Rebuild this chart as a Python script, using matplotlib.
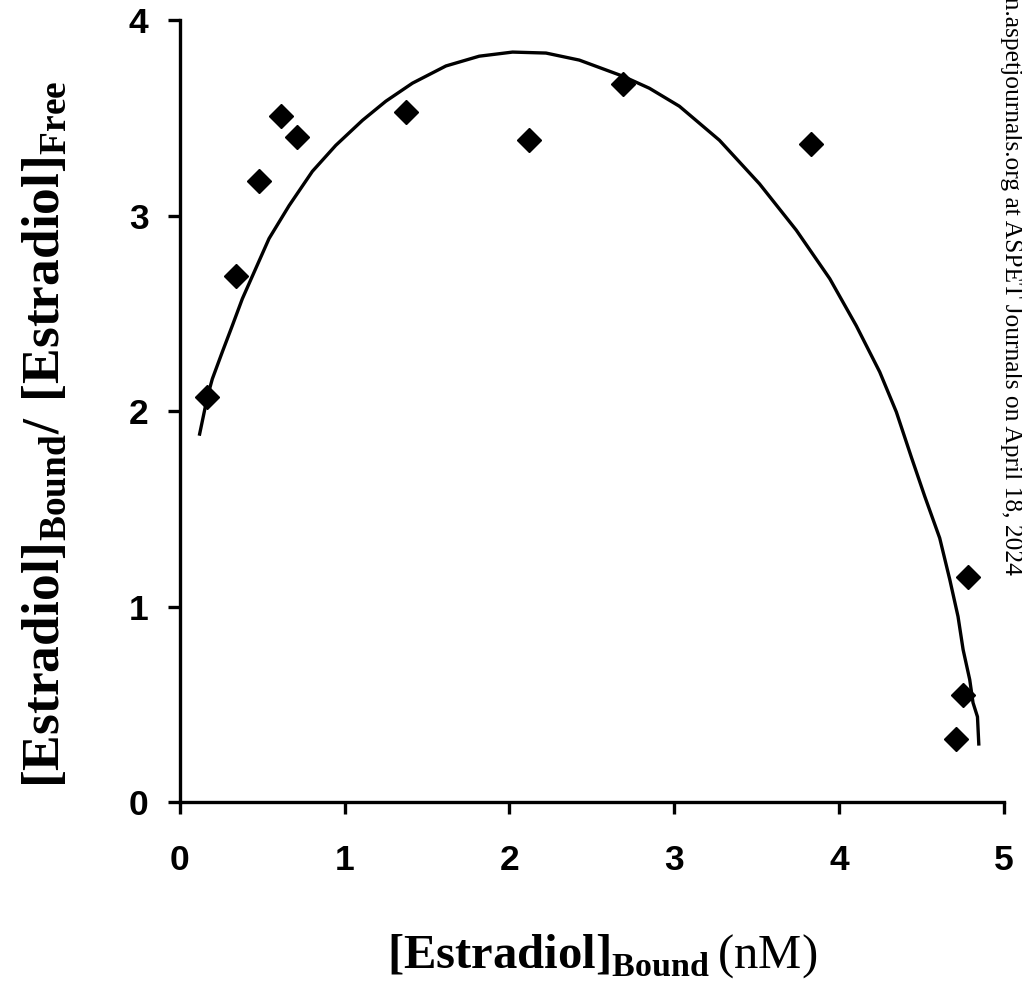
import matplotlib.pyplot as plt

# Scatchard plot data
bound = [0.168, 0.340, 0.481, 0.613, 0.714, 1.372, 2.117, 2.687, 3.831, 4.780, 4.750, 4.708]
ratio = [2.072, 2.692, 3.179, 3.508, 3.400, 3.528, 3.385, 3.673, 3.366, 1.149, 0.549, 0.323]

# fitted curve
fit_x = [0.121, 0.168, 0.198, 0.259, 0.319, 0.380, 0.461, 0.542, 0.664, 0.805, 0.947,
         1.109, 1.251, 1.412, 1.615, 1.817, 2.019, 2.222, 2.424, 2.687, 2.849, 3.031,
         3.274, 3.517, 3.740, 3.943, 4.104, 4.246, 4.347, 4.438, 4.519, 4.610, 4.671,
         4.721, 4.752, 4.792, 4.812, 4.839, 4.847]
fit_y = [1.882, 2.072, 2.164, 2.303, 2.436, 2.574, 2.728, 2.882, 3.051, 3.226, 3.359,
         3.487, 3.585, 3.677, 3.765, 3.815, 3.836, 3.831, 3.795, 3.713, 3.651, 3.559,
         3.385, 3.162, 2.925, 2.677, 2.436, 2.200, 1.995, 1.764, 1.564, 1.350, 1.138,
         0.949, 0.779, 0.626, 0.508, 0.436, 0.297]

xticks = [0, 1, 2, 3, 4, 5]
yticks = [0, 1, 2, 3, 4]

plt.rcParams['mathtext.fontset'] = 'custom'
plt.rcParams['mathtext.rm'] = 'Liberation Serif'
plt.rcParams['mathtext.bf'] = 'Liberation Serif:bold'

fig = plt.figure(figsize=(10.22, 9.91), dpi=100)
ax = fig.add_axes([0.1758, 0.1907, 0.8066, 0.7891])

ax.plot(fit_x, fit_y, color='black', lw=2.4, solid_joinstyle='round')
ax.plot(bound, ratio, linestyle='none', marker='D', markersize=12.5, color='black')

ax.set_xlim(0, 5)
ax.set_ylim(0, 4)
ax.set_xticks(xticks)
ax.set_yticks(yticks)

for side in ['top', 'right']:
    ax.spines[side].set_visible(False)
for side in ['left', 'bottom']:
    ax.spines[side].set_linewidth(2.4)

ax.tick_params(axis='both', direction='out', length=8.5, width=2.4)
ax.tick_params(axis='x', pad=22)
ax.tick_params(axis='y', pad=14)
for lbl in ax.get_xticklabels() + ax.get_yticklabels():
    lbl.set_fontfamily('Liberation Sans')
    lbl.set_fontweight('bold')
    lbl.set_fontsize(25.5)

fig.text(0.589, 0.024, r'$\mathbf{[Estradiol]}_{\mathbf{Bound}}\,\mathrm{(nM)}$',
         fontsize=35, ha='center', va='baseline')
fig.text(0.043, 0.562, r'$\mathbf{[Estradiol]_{Bound}/\ [Estradiol]_{Free}}$',
         fontsize=38.5, ha='center', va='center', rotation=90)

# download stamp along the right edge, cut off at the top like the scan
fig.text(0.990, 0.42, 'Downloaded from molpharm.aspetjournals.org at ASPET Journals on April 18, 2024',
         family='Liberation Serif', fontsize=18.4, rotation=270, ha='right', va='center',
         rotation_mode='anchor')

fig.savefig('out.png', dpi=100)
